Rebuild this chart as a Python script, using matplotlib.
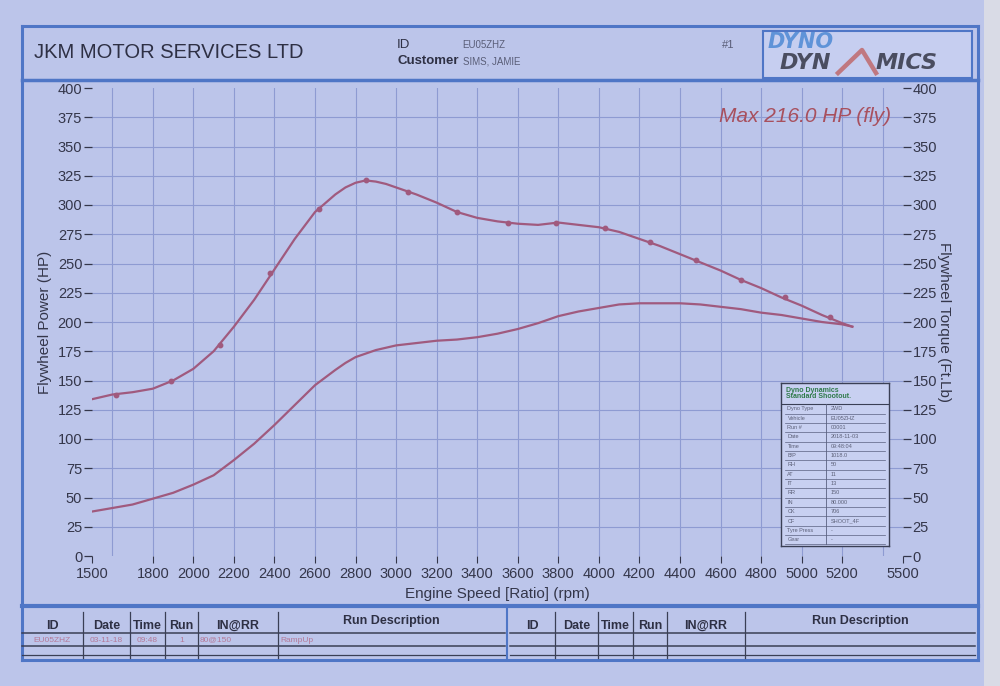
import matplotlib
matplotlib.use("Agg")
import matplotlib.pyplot as plt
from matplotlib.lines import Line2D
from matplotlib.patches import Rectangle
import numpy as np

plt.rcParams['font.family'] = ['Liberation Sans', 'DejaVu Sans']

# ---------------- data ----------------
rpm = [1500, 1600, 1700, 1800, 1900, 2000, 2100, 2200, 2300, 2400, 2500, 2600, 2700,
       2750, 2800, 2850, 2900, 2950, 3000, 3100, 3200, 3300, 3400, 3500, 3600, 3700,
       3800, 3900, 4000, 4100, 4200, 4300, 4400, 4500, 4600, 4700, 4800, 4900, 5000,
       5100, 5200, 5250]
torque_ftlb = [134, 138, 140, 143, 150, 160, 175, 196, 219, 245, 271, 294, 309,
               315, 319, 321, 320, 318, 315, 309, 302, 294, 289, 286, 284, 283,
               285, 283, 281, 277, 271, 265, 258, 251, 244, 236, 229, 221, 214,
               206, 199, 196]
power_hp = [38, 41, 44, 49, 54, 61, 69, 82, 96, 112, 129, 146, 159,
            165, 170, 173, 176, 178, 180, 182, 184, 185, 187, 190, 194, 199,
            205, 209, 212, 215, 216, 216, 216, 215, 213, 211, 208, 206, 203,
            200, 198, 196]
marker_rpm = [1620, 1890, 2130, 2380, 2620, 2850, 3060, 3300, 3550, 3790, 4030,
              4250, 4480, 4700, 4920, 5140]
marker_torque = [138, 150, 180, 242, 297, 321, 311, 294, 285, 285, 280,
                 268, 253, 236, 221, 204]

xtick_labels = [1500, 1800, 2000, 2200, 2400, 2600, 2800, 3000, 3200, 3400, 3600,
                3800, 4000, 4200, 4400, 4600, 4800, 5000, 5200, 5500]
ytick_values = list(range(0, 401, 25))

info_rows = [("Dyno Type", "2WD"), ("Vehicle", "EU05ZHZ"), ("Run #", "00001"),
             ("Date", "2018-11-03"), ("Time", "09:48:04"), ("B/P", "1018.0"),
             ("RH", "50"), ("AT", "11"), ("IT", "13"), ("RR", "150"),
             ("IN", "80.000"), ("CK", "706"), ("CF", "SHOOT_4F"),
             ("Tyre Press", "-"), ("Gear", "-")]

run_headers = ["ID", "Date", "Time", "Run", "IN@RR", "Run Description"]
run_row = ["EU05ZHZ", "03-11-18", "09:48", "1", "80@150", "RampUp"]

# ---------------- style ----------------
PAPER = '#bcc5ea'
FRAME = '#4f76c6'
GRID = '#8e9bd2'
CURVE = '#a05a7e'
TEXT = '#34364a'

W, H = 1000, 686
fig = plt.figure(figsize=(10, 6.86), dpi=100, facecolor=PAPER)

def fx(x):
    return x / W

def fy(y):
    return 1 - y / H

def hline(x0, x1, y, lw=1.0, color=FRAME):
    fig.add_artist(Line2D([fx(x0), fx(x1)], [fy(y), fy(y)], lw=lw, color=color,
                          transform=fig.transFigure))

def vline(x, y0, y1, lw=1.0, color=FRAME):
    fig.add_artist(Line2D([fx(x), fx(x)], [fy(y0), fy(y1)], lw=lw, color=color,
                          transform=fig.transFigure))

# right strip (outside paper)
fig.add_artist(Rectangle((fx(984), 0), 1 - fx(984), 1, transform=fig.transFigure,
                         facecolor='#d9dbe6', edgecolor='none', zorder=0))

# ---------------- main chart ----------------
ax = fig.add_axes([fx(92), fy(556), fx(903) - fx(92), fy(88) - fy(556)])
ax.set_facecolor(PAPER)
ax.plot(rpm, torque_ftlb, color=CURVE, lw=1.6, zorder=3)
ax.plot(rpm, power_hp, color=CURVE, lw=1.6, zorder=3)
ax.plot(marker_rpm, marker_torque, ls='none', marker='o', ms=3.2, color=CURVE, zorder=4)

ax.set_xlim(1500, 5500)
ax.set_ylim(0, 400)
ax.xaxis.remove_overlapping_locs = False
ax.set_xticks(xtick_labels)
ax.set_xticklabels([str(v) for v in xtick_labels])
ax.set_xticks(np.arange(1600, 5401, 200), minor=True)
ax.set_yticks(ytick_values)
ax.set_yticklabels([str(v) for v in ytick_values])
ax.tick_params(axis='x', which='major', direction='out', length=5, width=0.8,
               colors=TEXT, labelsize=10.5, pad=3)
ax.tick_params(axis='x', which='minor', length=0)
ax.tick_params(axis='y', direction='out', length=6, width=0.9, colors=TEXT,
               labelsize=10.5, pad=1)
ax.grid(False, axis='x', which='major')
ax.grid(True, axis='x', which='minor', color=GRID, lw=0.8)
ax.grid(True, axis='y', which='major', color=GRID, lw=0.8)
gl = ax.yaxis.get_gridlines()
gl[0].set_visible(False)
gl[-1].set_visible(False)
for s in ax.spines.values():
    s.set_visible(False)
ax.set_xlabel("Engine Speed [Ratio] (rpm)", fontsize=11, color=TEXT, labelpad=4)
ax.set_ylabel("Flywheel Power (HP)", fontsize=11, color=TEXT, labelpad=4)

ax2 = ax.twinx()
ax2.set_ylim(0, 400)
ax2.set_yticks(ytick_values)
ax2.set_yticklabels([str(v) for v in ytick_values])
ax2.tick_params(axis='y', direction='out', length=6, width=0.9, colors=TEXT,
                labelsize=10.5, pad=1)
for s in ax2.spines.values():
    s.set_visible(False)
ax2.set_ylabel("Flywheel Torque (Ft.Lb)", fontsize=11, color=TEXT, rotation=270,
               labelpad=10)

ax.text(0.985, 0.94, "Max 216.0 HP (fly)", transform=ax.transAxes, ha='right',
        va='center', fontsize=15, style='italic', color='#a8505e')

# ---------------- info table inset ----------------
tab = fig.add_axes([fx(781), fy(546), fx(889) - fx(781), fy(383) - fy(546)])
tab.set_xlim(0, 1)
tab.set_ylim(0, 1)
tab.set_xticks([])
tab.set_yticks([])
tab.set_facecolor('#c8d0f1')
for s in tab.spines.values():
    s.set_color('#3a3f55')
    s.set_linewidth(1.0)
title_h = 0.13
tab.text(0.05, 1 - title_h / 2, "Dyno Dynamics\nStandard Shootout.", ha='left',
         va='center', fontsize=5, color='#2f7a4a', fontweight='bold', linespacing=0.9)
tab.axhline(1 - title_h, color='#3a3f55', lw=0.8)
rh = (1 - title_h - 0.01) / len(info_rows)
tab.plot([0.42, 0.42], [0.01, 1 - title_h], color='#5a6080', lw=0.6)
for i, (k, v) in enumerate(info_rows):
    ytop = 1 - title_h - i * rh
    tab.plot([0.04, 0.96], [ytop - rh, ytop - rh], color='#5a6080', lw=0.5)
    tab.text(0.06, ytop - rh / 2, k, fontsize=4, color='#5c6078', va='center')
    tab.text(0.46, ytop - rh / 2, v, fontsize=4, color='#5c6078', va='center')

# ---------------- sheet frame & header ----------------
hline(22, 978, 26, lw=2.2)
vline(22, 26, 660, lw=2.2)
vline(978, 26, 660, lw=2.2)
hline(22, 978, 80, lw=2.5)
hline(22, 978, 606, lw=3.0)
hline(22, 978, 660, lw=2.2)

fig.text(fx(34), fy(52), "JKM MOTOR SERVICES LTD", fontsize=14.5, color='#2e3044',
         ha='left', va='center')
fig.text(fx(397), fy(45), "ID", fontsize=9.5, color='#2e3044', ha='left', va='center')
fig.text(fx(462), fy(45), "EU05ZHZ", fontsize=7, color='#5a5e78', ha='left', va='center')
fig.text(fx(397), fy(61), "Customer", fontsize=9.5, color='#2e3044', ha='left',
         va='center', fontweight='bold')
fig.text(fx(463), fy(61), "SIMS, JAMIE", fontsize=7, color='#5a5e78', ha='left', va='center')
fig.text(fx(722), fy(45), "#1", fontsize=8, color='#5a5e78', ha='left', va='center')

# logo
fig.add_artist(Rectangle((fx(763), fy(78)), fx(972) - fx(763), fy(31) - fy(78),
                         transform=fig.transFigure, facecolor='#c6cef0',
                         edgecolor=FRAME, lw=1.5))
fig.text(fx(768), fy(42), "DYNO", fontsize=15, color='#5f93d8', style='italic',
         fontweight='bold', ha='left', va='center', family='DejaVu Sans')
fig.text(fx(780), fy(63), "DYN", fontsize=16, color='#4a4d60', style='italic',
         fontweight='bold', ha='left', va='center', family='DejaVu Sans')
fig.add_artist(Line2D([fx(838), fx(862), fx(876)],
                      [fy(73), fy(50), fy(73)], color='#c07880', lw=3.2,
                      transform=fig.transFigure))
fig.text(fx(876), fy(63), "MICS", fontsize=16, color='#4a4d60', style='italic',
         fontweight='bold', ha='left', va='center', family='DejaVu Sans')

# ---------------- bottom run table ----------------
left_cols = [22, 83, 130, 165, 198, 278, 505]
right_cols = [510, 555, 598, 633, 667, 745, 975]
for cols in (left_cols, right_cols):
    for x in cols[1:-1]:
        vline(x, 612, 658, lw=0.9, color='#3a3f55')
    for i, h in enumerate(run_headers):
        xc = (cols[i] + cols[i + 1]) / 2
        yc = 626 if i < 5 else 621
        fig.text(fx(xc), fy(yc), h, fontsize=9, fontweight='bold', color='#2e3044',
                 ha='center', va='center')
    hline(cols[0], cols[-1], 633, lw=1.1, color='#3a3f55')
    hline(cols[0], cols[-1], 646, lw=1.1, color='#3a3f55')
    hline(cols[0], cols[-1], 655, lw=0.9, color='#3a3f55')
vline(507, 606, 660, lw=1.5)

for i, v in enumerate(run_row):
    if i < 4:
        xc = (left_cols[i] + left_cols[i + 1]) / 2
        fig.text(fx(xc), fy(640), v, fontsize=6, color='#b47a98', ha='center', va='center')
    else:
        fig.text(fx(left_cols[i] + 2), fy(640), v, fontsize=6, color='#b47a98',
                 ha='left', va='center')

fig.savefig("out.png", dpi=100, facecolor=PAPER)
